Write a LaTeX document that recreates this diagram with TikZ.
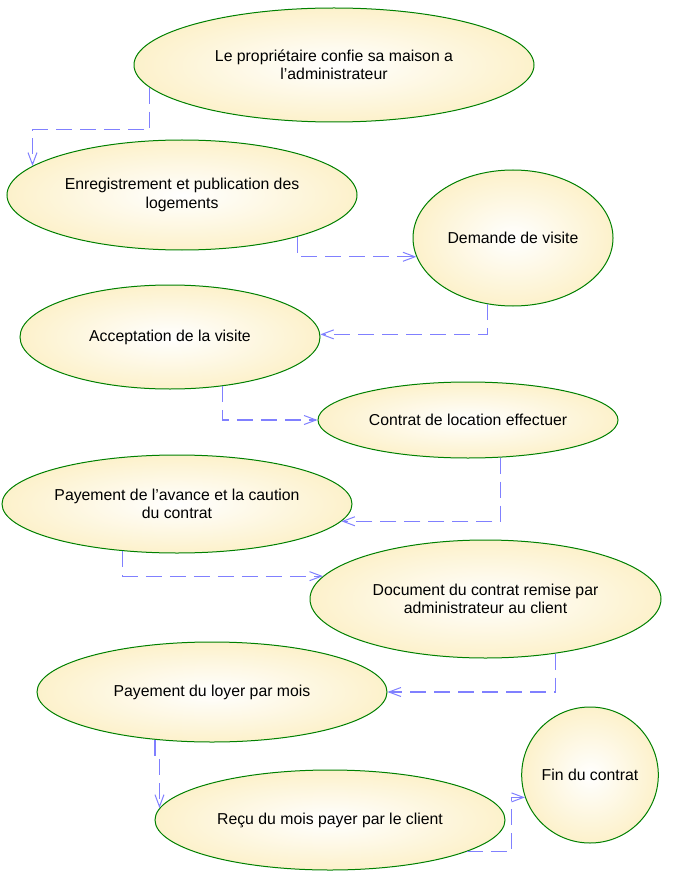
\documentclass[tikz,border=0pt]{standalone}
\usepackage{fontspec}
\setmainfont{Liberation Sans}
\usetikzlibrary{shapes.geometric,arrows.meta}

\definecolor{casefill}{RGB}{251,234,176}
\definecolor{caseline}{RGB}{0,128,0}
\definecolor{linkblue}{RGB}{128,128,255}
\pgfdeclareradialshading{caseshade}{\pgfpointorigin}{color(0bp)=(white); color(38bp)=(casefill); color(50bp)=(casefill)}

\tikzset{
    usecase/.style={ellipse, draw=caseline, line width=1pt, shading=caseshade,
        inner sep=0pt, align=center, font=\fontsize{15.8}{18.4}\selectfont},
    link/.style={draw=linkblue, line width=1.2pt, dash pattern=on 16pt off 8pt,
        -{Straight Barb[length=12pt,width=9pt,line width=1pt]}},
}

\begin{document}
\begin{tikzpicture}[x=1pt, y=-1pt]
                \useasboundingbox (0,0) rectangle (679,885);

                \node[usecase, minimum width=400pt, minimum height=114pt] (proprio) at (334,65) {Le propriétaire confie sa maison a\\l’administrateur};
                \node[usecase, minimum width=350pt, minimum height=110pt] (enreg) at (182,195) {Enregistrement et publication des\\logements};
                \node[usecase, minimum width=200pt, minimum height=136pt] (demande) at (513,238) {Demande de visite};
                \node[usecase, minimum width=300pt, minimum height=104pt] (accept) at (170,337) {Acceptation de la visite};
                \node[usecase, minimum width=300pt, minimum height=76pt] (contrat) at (468,420) {Contrat de location effectuer};
                \node[usecase, minimum width=350pt, minimum height=98pt] (avance) at (177,504) {Payement de l’avance et la caution\\du contrat};
                \node[usecase, minimum width=351pt, minimum height=118pt] (document) at (485.5,599) {Document du contrat remise par\\administrateur au client};
                \node[usecase, minimum width=350pt, minimum height=100pt] (loyer) at (212,692) {Payement du loyer par mois};
                \node[usecase, minimum width=350pt, minimum height=100pt] (recu) at (330,820) {Reçu du mois payer par le client};
                \node[usecase, minimum width=136pt, minimum height=136pt] (fin) at (590,775) {Fin du contrat};

                % draw links between the steps
                \draw[link] (proprio.187) -- ++(0,42) -| (enreg.169);
                \draw[link] (enreg.340) |- (demande.191);
                \draw[link] (demande.249) |- (accept.1);
                \draw[link] (accept.317) |- (contrat.west);
                \draw[link] (contrat.311) |- (avance.354);
                \draw[link] (avance.221) |- (document.172);
                \draw[link] (document.322) |- (loyer.east);
                \draw[link] (loyer.220) -- ++(0,16) -| (recu.176);
                \draw[link] (recu.347) -- ++(45,0) |- (fin.199);
            \end{tikzpicture}
\end{document}
